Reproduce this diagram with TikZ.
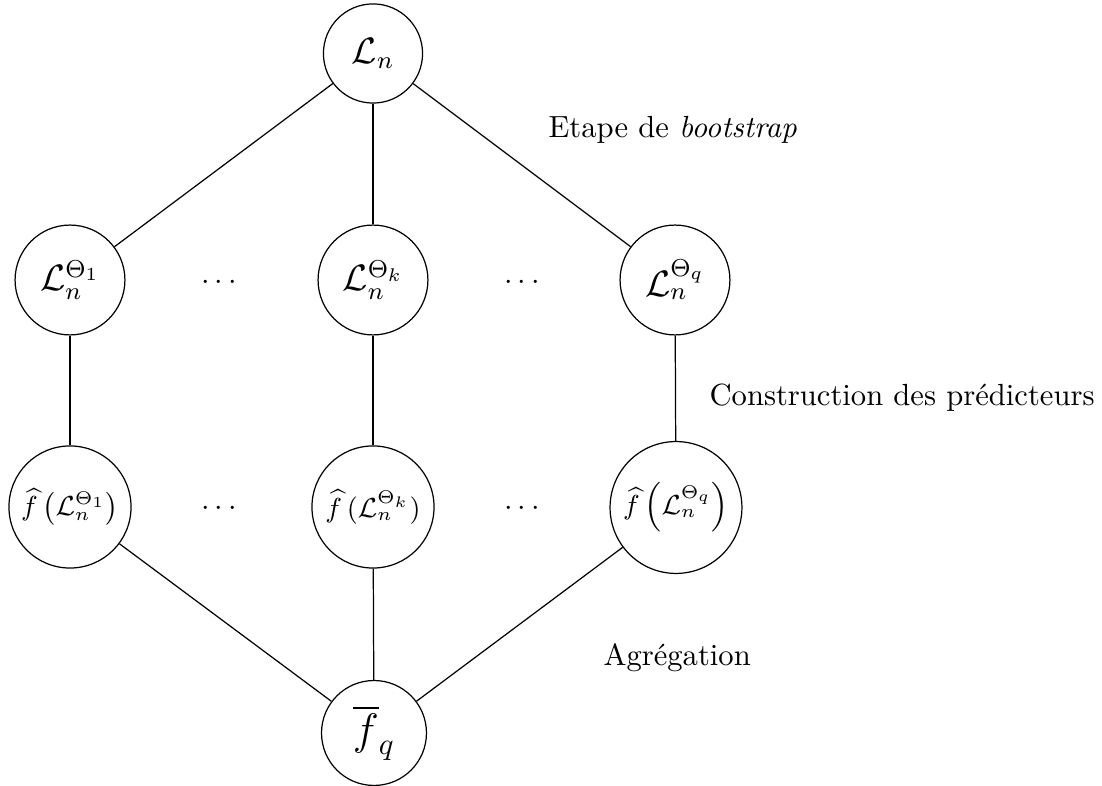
\documentclass[tikz,border=0pt]{standalone}
\usepackage{amsmath}
\begin{document}
\begin{tikzpicture}[x=0.3268pt, y=-0.3268pt,
  circ/.style={draw, circle, inner sep=0.5pt},
  lbl/.style={inner sep=0pt, anchor=base west},
  every path/.style={line width=0.4pt}]
\useasboundingbox (0,0) rectangle (1102,786);
% nodes
\node[circ, minimum size=32.4pt, font=\large] (top) at (373,53.5) {$\mathcal{L}_n$};
\node[circ, minimum size=35.9pt, font=\large] (a1) at (70,280) {$\mathcal{L}_n^{\Theta_1}$};
\node[circ, minimum size=35.9pt, font=\large] (ak) at (373,280) {$\mathcal{L}_n^{\Theta_k}$};
\node[circ, minimum size=35.9pt, font=\large] (aq) at (675,280) {$\mathcal{L}_n^{\Theta_q}$};
\node[circ, minimum size=39.9pt, font=\small] (b1) at (70,507) {$\widehat{f}\left(\mathcal{L}_n^{\Theta_1}\right)$};
\node[circ, minimum size=39.9pt, font=\small] (bk) at (373,507) {$\widehat{f}\,(\mathcal{L}_n^{\Theta_k})$};
\node[circ, minimum size=43.1pt, font=\small] (bq) at (676,507.5) {$\widehat{f}\left(\mathcal{L}_n^{\Theta_q}\right)$};
\node[circ, minimum size=34.3pt, font=\Large] (bot) at (374,733) {$\overline{f}_q$};
% dots
\node (d1) at (221.5,283) {$\cdots$};
\node (d2) at (524.5,283) {$\cdots$};
\node (d3) at (221.5,509) {$\cdots$};
\node (d4) at (524.5,509) {$\cdots$};
% labels
\node[lbl] (l1) at (548,138) {Etape de \textit{bootstrap}};
\node[lbl] (l2) at (709,406) {Construction des prédicteurs};
\node[lbl] (l3) at (603,666) {Agrégation};
% connectors
\draw (top) -- (a1);
\draw (top) -- (ak);
\draw (top) -- (aq);
\draw (a1) -- (b1);
\draw (ak) -- (bk);
\draw (aq) -- (bq);
\draw (b1) -- (bot);
\draw (bk) -- (bot);
\draw (bq) -- (bot);
\end{tikzpicture}
\end{document}
